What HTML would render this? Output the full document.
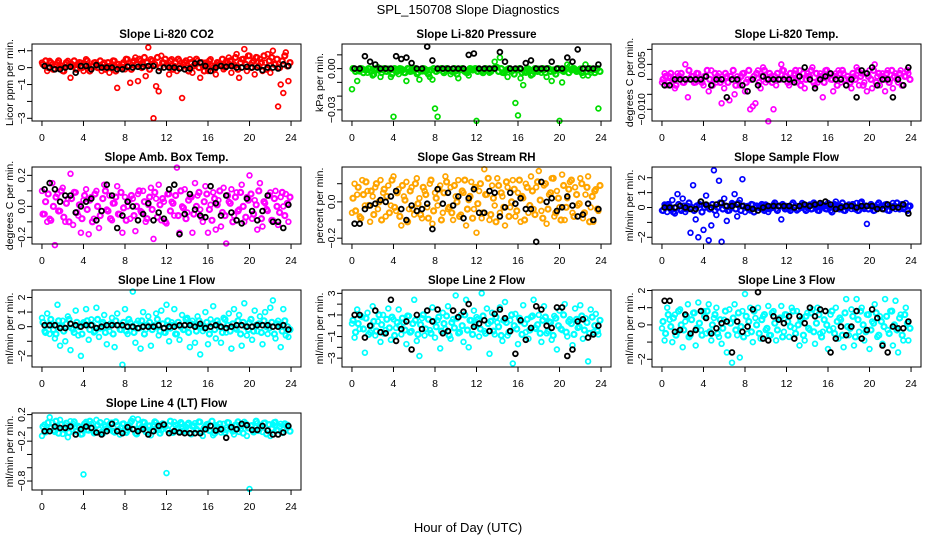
<!DOCTYPE html>
<html><head><meta charset="utf-8"><style>
html,body{margin:0;padding:0;background:#fff;}
svg{display:block;font-family:"Liberation Sans",Arial,sans-serif;}
</style></head><body>
<svg id="chart" width="936" height="540" viewBox="0 0 936 540">
<text x="468" y="14" text-anchor="middle" font-size="13">SPL_150708  Slope Diagnostics</text>
<text x="468" y="532" text-anchor="middle" font-size="13">Hour of Day (UTC)</text>
</svg>
<script>
// colored series: 96 values at 0.25 h steps; core band: dense values spread over 0-24 h; black series: 48 values at 0.5 h steps
const co2Vals=[0.3,0.1,-0.2,0.4,0.2,-0.1,0.3,0.0,-0.2,0.2,0.4,-0.6,0.1,-0.1,0.2,0.3,-0.2,0.5,0.1,-0.1,0.3,0.2,0.0,-0.2,0.3,0.1,-0.3,0.2,0.4,-1.2,0.1,0.2,-0.1,0.5,-0.9,0.3,0.6,-0.8,0.4,0.2,-0.5,1.2,0.5,-3.0,-1.1,-1.4,0.7,0.3,0.2,-0.4,0.5,0.1,-0.2,0.4,-1.8,0.3,0.0,0.5,-0.3,0.2,0.4,-0.6,0.1,0.3,-0.2,0.5,0.0,-0.4,0.3,0.2,-0.1,0.4,0.6,-0.3,0.2,0.8,-0.6,0.5,1.1,-0.2,0.7,0.3,-0.4,0.6,0.5,-0.2,0.3,0.8,-0.3,1.0,0.2,-2.3,-1.0,-1.5,0.9,-0.8];
const co2Core=[0.2,0.4,0.0,0.3,-0.1,0.2,0.4,0.1,-0.2,0.3,0.1,0.2,0.4,-0.1,0.3,0.0,0.2,0.4,-0.2,0.1,0.3,0.0,0.4,0.2,-0.1,0.3,0.1,0.4,-0.2,0.2,0.0,0.3,0.5,0.1,-0.1,0.4,0.2,0.5,0.0,0.6,0.3,-0.1,0.4,0.2,0.6,0.0,0.3,0.5,0.1,0.4,-0.1,0.3,0.5,0.0,0.2,0.4,-0.2,0.3,0.1,0.5,0.0,0.3,-0.2,0.2,0.4,0.1,-0.1,0.3,0.2,0.5,0.0,0.3,0.4,0.1,0.6,-0.1,0.3,0.5,0.2,0.7,0.0,0.4,0.6,0.1,0.3,0.7,-0.1,0.4,0.6,0.2,0.5,0.0,0.4,0.7,0.1,0.3];
const co2Black=[0.1,0.0,-0.1,-0.1,0.0,0.05,-0.3,0.1,0.1,-0.1,0.15,0.0,0.0,0.0,-0.1,-0.1,0.05,0.0,0.05,0.05,0.1,0.1,-0.2,0.0,0.0,0.0,-0.05,-0.1,-0.05,0.25,0.3,0.1,-0.2,0.0,0.1,0.05,0.1,0.0,0.0,0.05,0.0,0.0,-0.15,0.0,0.0,-0.05,0.2,0.1];
const presVals=[-15,0,-9,-2,0,-1,-3,0,-5,0,1,-6,-1,-2,0,-6,-35,-1,-4,0,-3,-9,0,-2,0,-4,-8,-2,0,-1,-6,-8,-29,-35,0,-2,-1,0,-4,0,-2,-7,-1,0,-3,-5,0,-1,-38,0,-2,-1,0,-3,-1,5,1,8,-3,-2,-6,0,-1,-25,-34,-7,-12,-3,0,-5,-2,-1,0,-3,-1,-6,0,-9,-2,0,-38,-10,-1,3,2,0,-1,-2,0,-5,3,-5,-3,0,-1,-29];
const presCore=[0,-2,-1,0,-3,-1,0,-2,-4,0,-1,-3,0,-2,-1,-4,0,-2,0,-1,-3,0,-2,-1,0,-3,-1,0,-2,-4,-1,0,-2,-1,0,-3,0,-1,-2,0,-4,-1,0,-2,-3,0,-1,0,-2,-1,-3,0,-1,-2,0,1,-2,0,-3,-1,0,-2,-4,-1,0,-3,-2,0,-1,-4,0,-2,-1,0,-3,0,-2,-1,-4,0,-1,-2,0,-3,-1,0,-2,-1,-3,0,-2,0,-1,-3,0,-2];
const presBlack=[0,0,9,5,3,0,0,0,9,7,8,4,0,0,16,6,0,0,0,0,0,0,10,11,0,0,0,0,12,5,0,0,0,4,6,0,0,0,5,0,0,8,5,14,0,0,0,3];
const tempVals=[-1,2,-2,1,0,-3,2,1,-1,5,-6,0,1,-1,2,0,-2,1,-4,3,0,-1,2,-8,-3,1,-7,0,-5,1,-2,2,-4,0,-10,-9,-8,3,-3,4,-1,-14,1,-10,-2,0,5,3,1,-2,0,2,-1,3,0,-3,2,1,4,-2,-1,2,-6,3,1,0,-4,2,3,-1,2,-2,0,-3,1,4,-2,2,-1,-4,3,-3,5,1,-2,2,-4,3,0,-3,2,-1,3,-2,1,2];
const tempCore=[0,1,-1,2,0,-2,1,2,-1,0,3,1,-1,2,0,-1,1,3,0,-2,2,1,-1,0,2,-1,1,3,-2,0,1,2,-1,3,0,1,2,-1,1,3,0,2,-1,1,2,0,3,1,-1,2,0,3,1,-2,2,0,1,3,-1,2,0,1,-1,3,2,0,1,-2,2,3,0,1,-1,2,0,3,1,-2,2,1,0,3,-1,2,1,0,2,-1,3,1,0,2,-2,1,3,0];
const tempBlack=[-2,-2,0,0,0,0,0,0,1,-2,0,0,-6,0,0,-2,-4,0,-2,1,0,0,0,0,0,-1,1,4,0,-3,0,1,2,0,0,-2,0,-6,3,2,4,-2,0,0,-6,0,-2,4];
const ambVals=[10,-5,-10,-8,15,-25,8,-3,12,-10,5,21,-12,9,-6,-17,4,11,-18,6,-8,10,-14,-3,14,-2,7,-9,2,13,-5,-17,6,0,-8,5,-16,8,-3,10,-10,1,12,-21,5,14,-9,3,-11,8,3,-6,25,-17,0,11,-4,6,-17,15,7,-2,-10,13,-17,1,9,-15,4,-13,12,-24,3,11,-6,9,-2,14,-10,6,20,-8,4,-15,15,-13,2,-3,9,-9,10,-12,6,0,8,-10];
const ambCore=[-5,3,8,-9,0,6,-3,10,-7,2,-10,5,9,-4,1,-8,7,-2,4,-10,8,0,-6,5,10,-3,-8,2,6,-5,9,-1,-9,4,7,-6,0,10,-4,3,-8,6,-2,9,-7,1,5,-10,8,-3,2,7,-6,10,-1,-8,4,6,-5,0,9,-7,3,8,-2,-9,5,1,10,-4,-6,7,2,-10,6,-3,9,0,-7,4,8,-5,1,10,-8,3,-2,7,-9,5,0,-4,9,-6,2,6];
const ambBlack=[11,15,11,3,7,7,-4,0,3,5,-9,-3,14,7,-14,-6,3,0,-9,-5,2,-9,-4,-8,11,14,-18,-5,8,-2,-6,-7,13,2,-6,7,-4,-9,-11,5,-3,-9,-3,7,-10,-10,-14,1];
const rhVals=[-6,10,4,-8,12,-2,6,-11,3,8,-4,12,5,-8,9,-2,14,-5,7,-13,3,11,-4,8,-7,13,2,-9,6,-3,10,-12,5,-2,9,-6,14,-4,8,-10,3,12,-7,5,-13,1,11,-4,-17,6,-9,18,4,-10,9,-2,13,-6,3,-13,8,-3,12,-8,5,-11,2,10,-6,14,-4,8,17,-5,9,-12,4,13,-8,6,-3,15,-10,2,11,-6,8,-2,13,-9,4,14,-3,-11,7,-5];
const rhCore=[2,-5,8,-9,4,11,-2,6,-7,10,0,-10,7,3,-6,12,-3,5,-8,9,1,-11,6,-4,10,-1,-7,8,4,-9,12,-5,2,7,-10,5,11,-3,-6,9,0,-8,6,12,-4,3,-9,8,-1,10,-6,4,13,-7,2,-11,9,5,-3,11,-8,0,7,-5,12,3,-10,8,-2,6,-7,11,1,-9,10,-4,5,13,-6,2,-10,9,-3,7,12,-8,4,-1,10,-6,8,-11,3,6,-4,9];
const rhBlack=[-12,-12,-4,-2,-1,1,0,3,6,-4,-10,-2,-5,-4,-1,-15,7,-1,5,-2,3,-9,2,7,-6,-6,6,5,-8,-3,5,-1,2,-4,-4,-22,11,0,2,-5,-3,3,-2,-8,-7,-1,-10,-4];
const sfVals=[-2,2,-3,1,5,-4,9,-1,6,-3,1,-17,15,-8,-20,4,-15,8,-22,-12,25,-5,18,-23,6,-9,-2,3,9,-6,5,19,-3,1,-2,2,0,-2,1,-1,2,-3,0,2,-1,1,-8,0,1,-1,2,0,-2,1,3,-1,0,2,-1,1,-2,0,2,-1,3,-2,0,4,-1,1,-2,0,2,-1,0,3,-2,4,-1,-11,1,0,-2,2,0,-1,2,-2,1,3,-1,0,2,-1,3,1];
const sfCore=[-2,1,2,-1,-3,0,2,-2,1,-1,3,0,-2,1,2,-3,0,1,-1,2,-2,0,3,-1,1,-2,0,2,-1,3,-2,1,0,-1,2,-3,1,0,2,-2,1,-1,0,3,-2,1,2,-1,0,-2,3,1,-1,0,2,-2,1,-1,3,0,-2,2,1,-1,0,-3,2,1,-1,3,-2,0,1,2,-1,-2,3,0,1,-1,2,-2,0,3,1,-1,2,-2,0,1,3,-1,2,0,-2,1];
const sfBlack=[0,0,0,1,0,-1,-1,4,2,0,2,3,1,1,2,1,0,-1,-2,0,1,1,1,1,1,0,1,2,1,2,3,4,2,-1,0,1,1,0,1,1,1,-1,-1,2,0,0,2,-4];
const l1Vals=[6,-3,9,-5,2,-8,15,-13,4,-10,7,-16,-2,11,-6,-20,3,12,-9,5,-4,13,-7,2,8,-12,-3,6,-14,9,-2,-26,12,-5,3,24,-11,4,-15,10,-2,7,-13,1,9,-6,11,-4,15,-10,3,12,-5,-9,8,-2,6,-14,4,-11,7,-19,-3,10,-12,5,14,-8,2,-11,6,-4,9,-15,12,-2,8,-13,16,-6,3,-9,11,-3,7,-12,10,-5,13,18,-8,4,-14,12,-6,-7];
const l1Core=[3,-4,1,5,-2,-5,4,0,-3,2,5,-1,-4,3,0,-5,2,4,-2,1,-3,5,-1,3,-4,0,2,-5,4,1,-2,3,-3,5,0,-4,2,-1,4,-5,1,3,-2,0,5,-3,2,-4,4,-1,1,-5,3,0,-2,5,-4,2,1,-3,4,0,-1,3,-5,2,-2,4,0,-4,5,1,-3,2,-1,4,-5,3,0,-2,5,-3,1,2,-4,4,0,-1,3,-5,2,1,-3,4,0,-2];
const l1Black=[1,1,1,-1,-1,2,1,0,1,1,-1,0,1,1,1,1,0,0,-1,0,0,0,1,-1,0,0,1,1,1,0,2,-1,0,1,0,-1,0,1,1,0,0,1,1,1,0,0,1,-2];
const l2Vals=[2,-11,15,-3,8,-25,12,-6,18,-9,4,-15,10,-4,16,-13,6,-2,15,-8,3,-17,9,-5,24,-14,-28,7,-9,14,-4,17,-11,5,-21,12,-3,18,-12,6,28,-7,10,-15,24,-20,5,14,8,-10,30,-5,16,-26,12,-8,3,17,-14,22,-9,5,-35,11,-17,4,19,-6,-12,8,24,-3,10,-15,18,-7,4,-13,9,-22,14,-4,20,-10,6,-18,16,-2,19,-12,7,-33,15,-6,11,-8];
const l2Core=[5,-6,2,9,-3,7,-8,0,4,-5,10,1,-7,6,-2,8,-9,3,0,7,-4,9,-6,2,5,-8,1,10,-3,6,-7,4,-1,8,-5,2,9,-9,3,-2,7,-6,0,10,-4,5,-8,1,6,-3,9,-7,2,4,-5,8,-1,-9,5,3,-6,10,0,-3,7,-8,2,6,-4,9,-2,1,-7,5,8,-5,3,-9,7,0,-3,10,-6,4,2,-8,6,-1,9,-4,3,-7,8,0,-5,5];
const l2Black=[10,10,-11,0,14,-6,-7,24,-14,-3,4,-22,10,-3,14,4,15,-7,-5,14,8,13,20,-1,2,5,-5,11,15,7,-5,-26,5,-13,-2,18,15,0,-2,17,17,-28,-22,4,6,-11,-8,0];
const l3Vals=[-2,-9,10,3,-10,6,-4,9,-13,2,12,-6,7,-12,13,-3,8,-5,12,-9,4,10,-7,-11,3,-16,9,-22,12,-6,-19,8,18,-5,10,-10,4,10,-8,5,-3,11,-6,8,-9,3,11,-4,6,-7,10,-2,8,-12,4,-9,7,-3,9,-11,10,-5,-4,8,-14,6,-2,10,-8,3,-13,15,-6,9,-12,15,-4,10,-9,6,-14,2,12,-7,5,-11,15,-3,8,-12,14,-16,6,-9,10,-9];
const l3Core=[2,-5,6,-1,4,-6,8,0,-3,5,-7,3,7,-2,1,-6,5,8,-4,0,6,-5,3,-2,8,-6,1,4,-3,7,-1,-7,5,2,-4,8,0,-5,3,6,-2,-6,7,1,-3,4,-7,6,2,-1,8,-5,0,3,-6,5,-2,7,-4,1,6,-7,3,0,-3,8,-5,2,4,-6,7,-1,-2,5,-7,3,8,0,-4,6,-3,1,7,-6,2,-1,5,-5,8,0,-3,4,-6,6,1,-2];
const l3Black=[14,14,-4,-3,6,-5,-3,8,4,-5,-2,1,2,-16,2,-4,-1,9,19,-8,-9,5,3,1,5,-8,5,1,10,5,9,8,-16,-8,-1,-6,-1,8,-8,-3,9,4,-12,-16,-1,-2,-2,2];
const l4Vals=[-12,5,-3,16,8,-6,2,12,-9,4,-14,10,6,-5,3,-10,-70,9,-4,6,-8,12,-2,-6,5,10,-3,8,-7,4,-10,6,0,-4,7,14,-8,13,-2,9,-6,3,-11,5,8,-3,-4,6,-68,4,-7,9,0,-5,6,-3,5,-8,2,7,-4,9,-12,3,6,-5,-11,4,1,-7,6,-3,8,-2,-10,5,-6,3,9,-12,-92,4,-4,7,2,-6,8,-3,-12,5,9,-4,6,-2,3,1];
const l4Core=[2,-6,8,0,-4,10,-8,5,-2,7,-7,3,9,-5,1,-9,6,-3,10,0,-6,4,8,-8,2,-1,7,-5,9,-3,0,6,-7,4,10,-2,-9,5,1,8,-6,3,-4,9,0,-8,6,2,-3,10,-7,4,-1,8,-5,1,7,-9,3,-2,9,-6,0,5,-4,10,-8,2,6,-3,-7,8,1,-5,4,9,-2,-8,6,0,3,-6,10,-4,1,7,-9,5,-1,8,-3,2,-7,6,4,-5];
const l4Black=[-5,-5,2,0,0,2,-10,-2,2,0,-7,-10,-5,6,-5,-8,1,-2,-5,-2,-10,-5,3,5,-8,-5,-7,-8,-8,-8,-8,-2,3,-4,-2,-15,1,-2,6,4,-3,-3,3,-4,-10,-10,-7,3];
const xTicks=[0,4,8,12,16,20,24];
const co2Ticks=[1,0,-1,-2,-3], co2Labels=["1","0","\u22121","","\u22123"];
const presTicks=[0.01,0,-0.01,-0.02,-0.03], presLabels=["","0.00","","","\u22120.03"];
const tempTicks=[0.01,0.005,0,-0.005,-0.01], tempLabels=["","0.005","","","\u22120.010"];
const ambTicks=[0.2,0.1,0,-0.1,-0.2], ambLabels=["0.2","","0.0","","\u22120.2"];
const rhTicks=[0.1,0,-0.1,-0.2], rhLabels=["","0.0","","\u22120.2"];
const sfTicks=[2,1,0,-1,-2], sfLabels=["2","1","0","","\u22122"];
const l1Ticks=[2,1,0,-1,-2], l1Labels=["2","1","0","","\u22122"];
const l2Ticks=[3,2,1,0,-1,-2,-3], l2Labels=["3","","1","","\u22121","","\u22123"];
const l3Ticks=[2,1,0,-1,-2], l3Labels=["2","1","0","","\u22122"];
const l4Ticks=[0.2,0,-0.2,-0.4,-0.6,-0.8], l4Labels=["0.2","","\u22120.2","","","\u22120.8"];

const panels=[
 {key:'co2',title:'Slope Li-820 CO2',yl:'Licor ppm per min.',col:'#ff0000',ylim:[-3.16,1.4],unit:1,v:co2Vals,k:co2Core,b:co2Black,t:co2Ticks,tl:co2Labels},
 {key:'pressure',title:'Slope Li-820 Pressure',yl:'kPa per min.',col:'#00dd00',ylim:[-0.0381,0.0179],unit:0.001,v:presVals,k:presCore,b:presBlack,t:presTicks,tl:presLabels},
 {key:'li820-temp',title:'Slope Li-820 Temp.',yl:'degrees C per min.',col:'#ff00ff',ylim:[-0.0139,0.0118],unit:0.001,v:tempVals,k:tempCore,b:tempBlack,t:tempTicks,tl:tempLabels},
 {key:'amb-box-temp',title:'Slope Amb. Box Temp.',yl:'degrees C per min.',col:'#ff00ff',ylim:[-0.243,0.254],unit:0.01,v:ambVals,k:ambCore,b:ambBlack,t:ambTicks,tl:ambLabels},
 {key:'gas-stream-rh',title:'Slope Gas Stream RH',yl:'percent per min.',col:'#ffa500',ylim:[-0.232,0.192],unit:0.01,v:rhVals,k:rhCore,b:rhBlack,t:rhTicks,tl:rhLabels},
 {key:'sample-flow',title:'Slope Sample Flow',yl:'ml/min per min.',col:'#0000ff',ylim:[-2.45,2.72],unit:0.1,v:sfVals,k:sfCore,b:sfBlack,t:sfTicks,tl:sfLabels},
 {key:'line1-flow',title:'Slope Line 1 Flow',yl:'ml/min per min.',col:'#00ffff',ylim:[-2.76,2.51],unit:0.1,v:l1Vals,k:l1Core,b:l1Black,t:l1Ticks,tl:l1Labels},
 {key:'line2-flow',title:'Slope Line 2 Flow',yl:'ml/min per min.',col:'#00ffff',ylim:[-3.82,3.31],unit:0.1,v:l2Vals,k:l2Core,b:l2Black,t:l2Ticks,tl:l2Labels},
 {key:'line3-flow',title:'Slope Line 3 Flow',yl:'ml/min per min.',col:'#00ffff',ylim:[-2.45,2.03],unit:0.1,v:l3Vals,k:l3Core,b:l3Black,t:l3Ticks,tl:l3Labels},
 {key:'line4-flow',title:'Slope Line 4 (LT) Flow',yl:'ml/min per min.',col:'#00ffff',ylim:[-0.935,0.224],unit:0.01,v:l4Vals,k:l4Core,b:l4Black,t:l4Ticks,tl:l4Labels}
];
const NS='http://www.w3.org/2000/svg';
const svg=document.getElementById('chart');
function mk(tag,attrs,parent){const e=document.createElementNS(NS,tag);for(const k in attrs)e.setAttribute(k,attrs[k]);parent.appendChild(e);return e;}
panels.forEach((p,idx)=>{
  const c=idx%3,r=Math.floor(idx/3);
  const L=c*310+32,R=c*310+301,T=44+r*123,B=T+77;
  const xs=h=>L+(h+0.96)/25.92*(R-L);
  const ys=v=>B-(v-p.ylim[0])/(p.ylim[1]-p.ylim[0])*(B-T);
  const g=mk('g',{},svg);
  
  
  const ti=mk('text',{x:(L+R)/2,y:T-6,'text-anchor':'middle','font-size':11.5,'font-weight':'bold'},g);ti.textContent=p.title;
  
  
  const yt=mk('text',{x:0,y:0,'text-anchor':'middle','font-size':10.5,transform:`translate(${c*310+13},${(T+B)/2}) rotate(-90)`},g);yt.textContent=p.yl;
  
  
  const pg=mk('g',{fill:'none'},g);
  
  
  const nk=p.k.length;
  p.k.forEach((v,i)=>{const cc=mk('circle',{cx:xs(0.1+i*23.8/(nk-1)).toFixed(1),cy:ys(v*p.unit).toFixed(1),r:2.5,stroke:p.col,'stroke-width':2.2},pg);
    
    });
  p.v.forEach((v,i)=>{const cc=mk('circle',{cx:xs(i*0.25).toFixed(1),cy:ys(v*p.unit).toFixed(1),r:2.4,stroke:p.col,'stroke-width':1.7},pg);
    
    });
  p.b.forEach((v,i)=>{const cc=mk('circle',{cx:xs(i*0.5+0.25).toFixed(1),cy:ys(v*p.unit).toFixed(1),r:2.4,stroke:'#000','stroke-width':1.8},pg);
    
    });
  const bx=mk('rect',{x:L,y:T,width:R-L,height:B-T,fill:'none',stroke:'#000','stroke-width':1},g);
  
  
  const xa=mk('g',{},g);
  
  
  mk('line',{x1:xs(xTicks[0]),x2:xs(xTicks[xTicks.length-1]),y1:B,y2:B,stroke:'#000'},xa);
  xTicks.forEach(t=>{mk('line',{x1:xs(t),x2:xs(t),y1:B,y2:B+5,stroke:'#000'},xa);
    const tx=mk('text',{x:xs(t),y:B+20,'text-anchor':'middle','font-size':10.5},xa);tx.textContent=t;
    
    });
  const ya=mk('g',{},g);
  
  
  mk('line',{x1:L,x2:L,y1:ys(p.t[0]),y2:ys(p.t[p.t.length-1]),stroke:'#000'},ya);
  p.t.forEach((t,i)=>{mk('line',{x1:L-5,x2:L,y1:ys(t),y2:ys(t),stroke:'#000'},ya);
    if(p.tl[i]){const tx=mk('text',{x:0,y:0,'text-anchor':'middle','font-size':10.5,transform:`translate(${L-7},${ys(t)}) rotate(-90)`},ya);tx.textContent=p.tl[i];
    
    }});
});
</script>
</body></html>
